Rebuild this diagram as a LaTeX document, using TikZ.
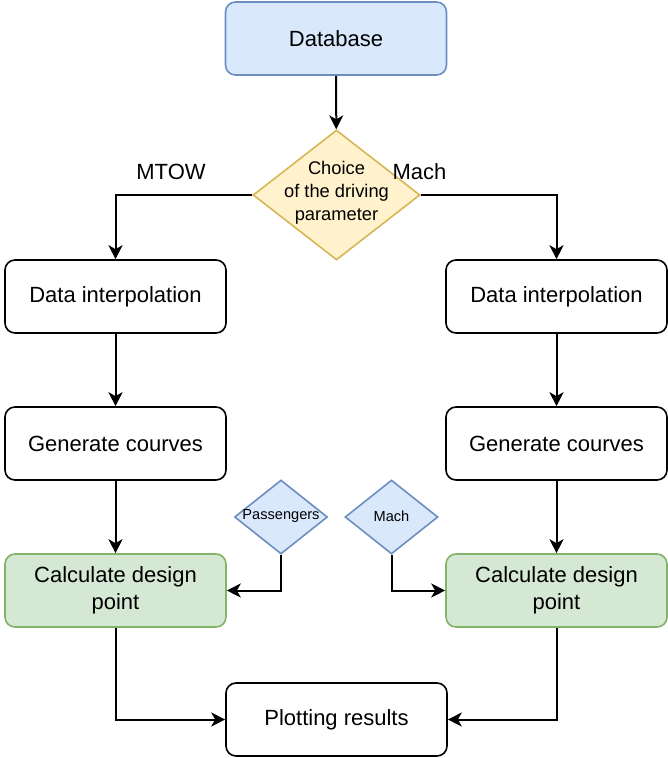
\documentclass[tikz,border=0pt]{standalone}
\usepackage{fontspec}
\setmainfont{Liberation Sans}
\usetikzlibrary{shapes.geometric,arrows.meta}
\definecolor{blueFill}{HTML}{DAE8FC}
\definecolor{blueLine}{HTML}{6C8EBF}
\definecolor{yelFill}{HTML}{FFF2CC}
\definecolor{yelLine}{HTML}{D6B656}
\definecolor{grnFill}{HTML}{D5E8D4}
\definecolor{grnLine}{HTML}{82B366}
\tikzset{
  procbox/.style={draw=black, line width=1.6pt, rounded corners=10pt, fill=white,
    minimum width=221pt, minimum height=73pt, inner sep=0pt, align=center,
    font=\fontsize{22}{27}\selectfont},
  dbbox/.style={procbox, draw=blueLine, fill=blueFill},
  calcbox/.style={procbox, draw=grnLine, fill=grnFill},
  bigdiam/.style={diamond, draw=yelLine, fill=yelFill, line width=1.6pt,
    minimum width=167pt, minimum height=130pt, inner sep=0pt},
  smalldiam/.style={diamond, draw=blueLine, fill=blueFill, line width=1.6pt,
    minimum width=93pt, minimum height=74pt, inner sep=0pt},
  flow/.style={draw=black, line width=2pt,
    -{Stealth[length=14pt,width=14pt,inset=4pt]}},
  sidelabel/.style={font=\fontsize{22}{26}\selectfont, inner sep=0pt}
}
\begin{document}
\begin{tikzpicture}[x=1pt, y=-1pt]
  \useasboundingbox (0,0) rectangle (668,758);

  % top of the chart
  \node[dbbox] (db) at (336,38.5) {Database};
  \node[bigdiam] (choice) at (336.5,195) {};
  \node[align=center, font=\fontsize{18.3}{23}\selectfont, inner sep=0pt] (choicetxt) at (336.5,193)
    {Choice\\of the driving\\parameter};
  \node[sidelabel] (mtow) at (171,172) {MTOW};
  \node[sidelabel] (machlbl) at (419.5,172) {Mach};

  % left branch
  \node[procbox] (dl1) at (115.5,296.5) {Data interpolation};
  \node[procbox] (dl2) at (115.5,443.5) {Generate courves};
  \node[calcbox] (cl)  at (115.5,590.5) {Calculate design\\point};

  % right branch
  \node[procbox] (dr1) at (556.5,296.5) {Data interpolation};
  \node[procbox] (dr2) at (556.5,443.5) {Generate courves};
  \node[calcbox] (cr)  at (556.5,590.5) {Calculate design\\point};

  % extra inputs
  \node[smalldiam] (pass) at (281,517) {};
  \node[font=\fontsize{14.6}{17}\selectfont, inner sep=0pt] (passtxt) at (281,516) {Passengers};
  \node[smalldiam] (mach) at (391.5,517) {};
  \node[font=\fontsize{14.6}{17}\selectfont, inner sep=0pt] (machtxt) at (391.5,516) {Mach};

  % result
  \node[procbox] (plot) at (336.5,719.5) {Plotting results};

  % connectors
  \draw[flow] (db) -- (choice);
  \draw[flow] (choice.west) -| (dl1.north);
  \draw[flow] (choice.east) -| (dr1.north);
  \draw[flow] (dl1) -- (dl2);
  \draw[flow] (dl2) -- (cl);
  \draw[flow] (dr1) -- (dr2);
  \draw[flow] (dr2) -- (cr);
  \draw[flow] (pass.south) |- (cl.east);
  \draw[flow] (mach.south) |- (cr.west);
  \draw[flow] (cl.south) |- (plot.west);
  \draw[flow] (cr.south) |- (plot.east);
\end{tikzpicture}
\end{document}
